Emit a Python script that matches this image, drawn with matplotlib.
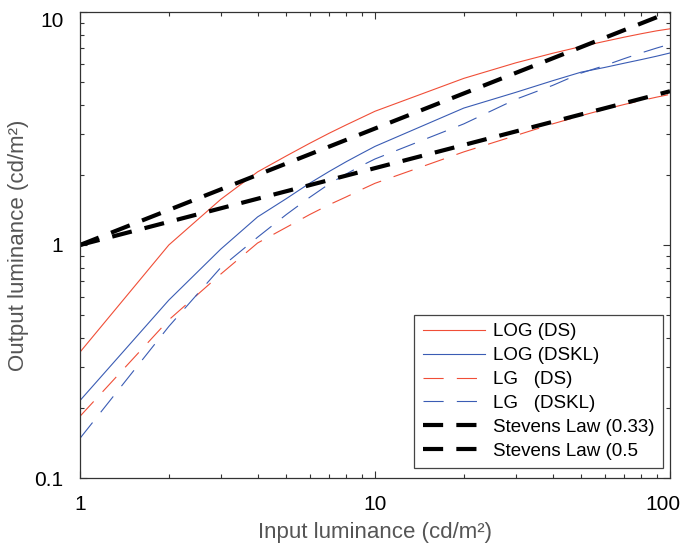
import matplotlib
matplotlib.use("Agg")
import matplotlib.pyplot as plt
from matplotlib.ticker import NullFormatter, LogLocator
from matplotlib.transforms import ScaledTranslation

plt.rcParams["font.family"] = ["Liberation Sans", "DejaVu Sans"]
plt.rcParams["lines.scale_dashes"] = False

# Input luminance samples (cd/m2)
x_vals = [1, 2, 3, 4, 5, 6, 7, 8, 9, 10, 20, 30, 40, 50, 60, 70, 80, 90, 100]

# Output luminance
log_ds = [0.347, 1.0, 1.57, 2.06, 2.41, 2.73, 3.02, 3.28, 3.52, 3.75,
          5.19, 6.05, 6.65, 7.11, 7.48, 7.80, 8.07, 8.30, 8.47]
log_dskl = [0.215, 0.58, 0.96, 1.32, 1.58, 1.84, 2.07, 2.28, 2.47, 2.65,
            3.87, 4.52, 5.07, 5.52, 5.78, 6.03, 6.25, 6.46, 6.67]
lg_ds = [0.184, 0.477, 0.75, 1.02, 1.19, 1.35, 1.49, 1.61, 1.73, 1.84,
         2.51, 2.95, 3.31, 3.59, 3.82, 4.01, 4.17, 4.31, 4.43]
lg_dskl = [0.148, 0.447, 0.80, 1.08, 1.35, 1.60, 1.83, 2.02, 2.19, 2.34,
           3.31, 4.22, 4.84, 5.47, 5.89, 6.31, 6.68, 7.00, 7.28]

# Stevens law reference lines (straight on log-log axes)
stevens_x = [1, 100]
stevens_033 = [1.0, 4.57]
stevens_05 = [1.0, 10.0]

RED = "#f04e37"
BLUE = "#3a5cb4"
DASH = (0, (14.5, 9.5))

fig = plt.figure(figsize=(6.81, 5.48), dpi=100)
ax = fig.add_axes([80 / 681, 70 / 548, 590 / 681, 466 / 548])

ax.plot(x_vals, log_ds, color=RED, lw=0.8, label="LOG (DS)")
ax.plot(x_vals, log_dskl, color=BLUE, lw=0.8, label="LOG (DSKL)")
ax.plot(x_vals, lg_ds, color=RED, lw=0.8, linestyle=DASH, label="LG   (DS)")
ax.plot(x_vals, lg_dskl, color=BLUE, lw=0.8, linestyle=DASH,
        label="LG   (DSKL)")
ax.plot(stevens_x, stevens_033, color="black", lw=3, linestyle=DASH,
        label="Stevens Law (0.33)")
ax.plot(stevens_x, stevens_05, color="black", lw=3, linestyle=DASH,
        label="Stevens Law (0.5")

ax.set_xscale("log")
ax.set_yscale("log")
ax.set_xlim(1, 100)
ax.set_ylim(0.1, 10)

ax.set_xticks([1, 10, 100])
ax.set_xticklabels(["1", "10", "100"])
ax.set_yticks([0.1, 1, 10])
ax.set_yticklabels(["0.1", "1", "10"])
ax.xaxis.set_minor_locator(LogLocator(base=10, subs=range(2, 10)))
ax.yaxis.set_minor_locator(LogLocator(base=10, subs=range(2, 10)))
ax.xaxis.set_minor_formatter(NullFormatter())
ax.yaxis.set_minor_formatter(NullFormatter())
ax.tick_params(which="both", direction="in", top=True, right=True,
               labelsize=15, color="#333333", width=0.8)
ax.tick_params(which="major", length=5)
ax.tick_params(axis="x", which="major", pad=12)
ax.tick_params(axis="y", which="major", pad=12)
ax.tick_params(which="minor", length=3)
ax.get_yticklabels()[-1].set_va("top")
# nudge "100" left a little so it stays inside the figure
lab100 = ax.get_xticklabels()[-1]
lab100.set_transform(lab100.get_transform()
                     + ScaledTranslation(-5 / 72, 0, fig.dpi_scale_trans))
for s in ax.spines.values():
    s.set_color("#333333")
    s.set_linewidth(0.9)

ax.set_xlabel("Input luminance (cd/m²)", fontsize=16, color="#555555",
              labelpad=6)
ax.set_ylabel("Output luminance (cd/m²)", fontsize=16, color="#555555",
              labelpad=4)

leg = ax.legend(loc="lower right", bbox_to_anchor=(0.988, 0.021),
                borderaxespad=0, fontsize=13.5, fancybox=False,
                edgecolor="#444444", handlelength=3.3, labelspacing=0.36,
                borderpad=0.45, handletextpad=0.45, framealpha=1)
leg.get_frame().set_linewidth(0.9)

fig.savefig("out.png", dpi=100)
